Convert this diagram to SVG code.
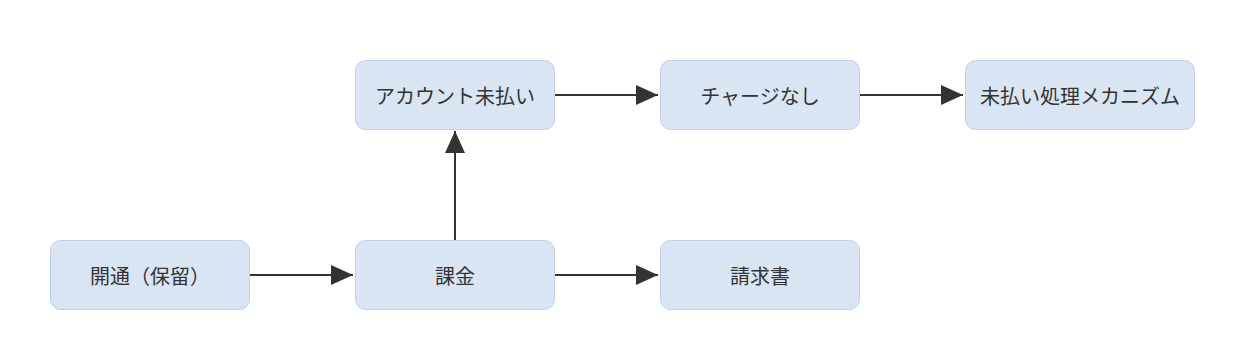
<svg xmlns="http://www.w3.org/2000/svg" width="1240" height="360" viewBox="0 0 1240 360">
  <defs>
    <style>
      .node rect { fill: #dae5f4; stroke: #bfd0e8; stroke-width: 1; }
      .node text { font-family: "Noto Sans CJK JP", "Noto Sans", sans-serif; font-size: 20px; fill: #333333; text-anchor: middle; dominant-baseline: central; }
      .edge { stroke: #333333; stroke-width: 2; fill: none; marker-end: url(#arrow); }
    </style>
    <marker id="arrow" markerUnits="userSpaceOnUse" markerWidth="22" markerHeight="20" refX="22" refY="10" orient="auto">
      <path d="M0,0 L22,10 L0,20 z" fill="#333333"/>
    </marker>
  </defs>
  <rect width="1240" height="360" fill="#ffffff"/>
  <g id="connectors">
    <line class="edge" x1="250" y1="275" x2="353" y2="275"/>
    <line class="edge" x1="555" y1="275" x2="658" y2="275"/>
    <line class="edge" x1="455" y1="240" x2="455" y2="131"/>
    <line class="edge" x1="555" y1="95" x2="658" y2="95"/>
    <line class="edge" x1="860" y1="95" x2="963" y2="95"/>
  </g>
  <g id="node-kaitsu" class="node">
    <rect x="50.5" y="240.5" width="199" height="69" rx="10"/>
    <text x="150" y="275">開通（保留）</text>
  </g>
  <g id="node-kakin" class="node">
    <rect x="355.5" y="240.5" width="199" height="69" rx="10"/>
    <text x="455" y="275">課金</text>
  </g>
  <g id="node-seikyusho" class="node">
    <rect x="660.5" y="240.5" width="199" height="69" rx="10"/>
    <text x="760" y="275">請求書</text>
  </g>
  <g id="node-account" class="node">
    <rect x="355.5" y="60.5" width="199" height="69" rx="10"/>
    <text x="455" y="95">アカウント未払い</text>
  </g>
  <g id="node-charge" class="node">
    <rect x="660.5" y="60.5" width="199" height="69" rx="10"/>
    <text x="760" y="95">チャージなし</text>
  </g>
  <g id="node-mechanism" class="node">
    <rect x="965.5" y="60.5" width="229" height="69" rx="10"/>
    <text x="1080" y="95">未払い処理メカニズム</text>
  </g>
</svg>
